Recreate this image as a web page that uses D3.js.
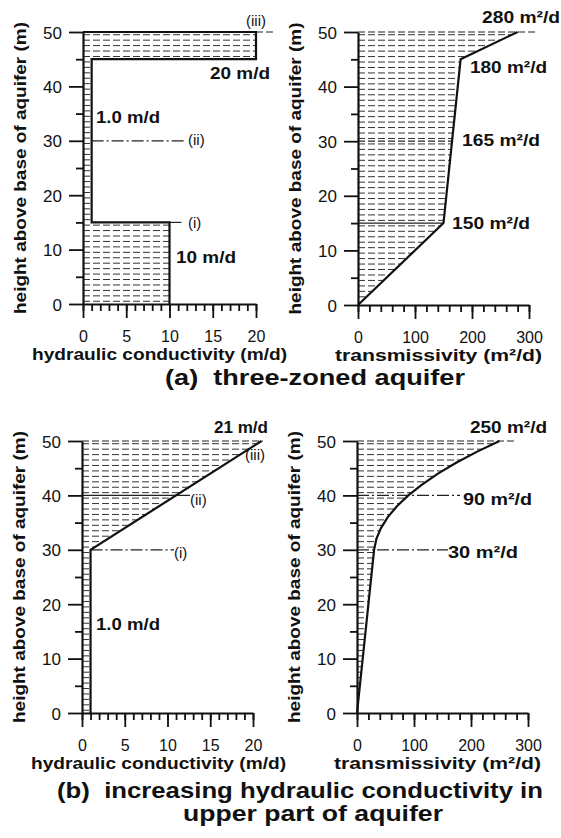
<!DOCTYPE html>
<html>
<head>
<meta charset="utf-8">
<script src="https://cdn.jsdelivr.net/npm/d3@7"></script>
<style>
  body { margin: 0; background: #fff; }
  svg text { font-family: "Liberation Sans", Arial, sans-serif; fill: #111; }
</style>
</head>
<body>
<div id="chart"></div>
<script>
// (a) three-zoned aquifer
const kHeightA = [0, 15, 15, 45, 45, 50];
const kValueA = [10, 10, 1, 1, 20, 20];
const tHeightA = [0, 15, 45, 50];
const tValueA = [0, 150, 180, 280];
// (b) increasing conductivity in upper part
const kHeightB = [0, 30, 50];
const kValueB = [1, 1, 21];
const tHeightB = [0, 10, 20, 30, 32, 34, 36, 38, 40, 42, 44, 46, 48, 50];
const tValueB = [0, 10, 20, 30, 34, 42, 54, 70, 90, 114, 142, 174, 210, 250];

const heightTicks = [0, 10, 20, 30, 40, 50];
const kTicks = [0, 5, 10, 15, 20];
const tTicks = [0, 100, 200, 300];

let width = 561,
  height = 838;

let svg = d3
  .select("#chart")
  .append("svg")
  .attr("width", width)
  .attr("height", height);

let defs = svg.append("defs");

// panel frames (pixel ranges)
let panels = [
  { id: "aK", x: [83, 256], y: [304, 32], max: 20, minor: 1, ticks: kTicks, title: "hydraulic conductivity (m/d)", tx: 32, tw: 255 },
  { id: "aT", x: [358, 529], y: [305, 32], max: 300, minor: 20, ticks: tTicks, title: "transmissivity (m²/d)", tx: 335, tw: 207 },
  { id: "bK", x: [82, 253], y: [713, 441], max: 20, minor: 1, ticks: kTicks, title: "hydraulic conductivity (m/d)", tx: 31, tw: 255 },
  { id: "bT", x: [357, 528], y: [713, 441], max: 300, minor: 20, ticks: tTicks, title: "transmissivity (m²/d)", tx: 334, tw: 207 },
];

panels.forEach((p) => {
  p.xs = d3.scaleLinear().domain([0, p.max]).range(p.x);
  p.ys = d3.scaleLinear().domain([0, 50]).range(p.y);
});

function drawAxes(p) {
  let g = svg.append("g");
  // minor y ticks
  g.append("g")
    .attr("transform", `translate(${p.x[0]},0)`)
    .call(d3.axisLeft(p.ys).tickValues([5, 15, 25, 35, 45]).tickSize(7).tickSizeOuter(0).tickFormat(""))
    .call((a) => a.select(".domain").remove());
  // major y ticks
  g.append("g")
    .attr("transform", `translate(${p.x[0]},0)`)
    .call(d3.axisLeft(p.ys).tickValues(heightTicks).tickSize(14).tickSizeOuter(0).tickPadding(7))
    .call((a) => a.selectAll("text").style("font-size", "17px").attr("dy", "0.36em"));
  // minor x ticks
  g.append("g")
    .attr("transform", `translate(0,${p.y[0]})`)
    .call(d3.axisBottom(p.xs).tickValues(d3.range(0, p.max + 0.01, p.minor)).tickSize(7).tickSizeOuter(0).tickFormat(""))
    .call((a) => a.select(".domain").remove());
  // major x ticks
  g.append("g")
    .attr("transform", `translate(0,${p.y[0]})`)
    .call(d3.axisBottom(p.xs).tickValues(p.ticks).tickSize(14).tickSizeOuter(0).tickPadding(13))
    .call((a) => a.selectAll("text").style("font-size", "16px"));
  g.selectAll("line, path").attr("stroke", "#111").attr("stroke-width", 1.8);
  g.selectAll(".domain").attr("stroke-width", 2.2);

  // axis titles
  svg.append("text")
    .attr("x", p.tx)
    .attr("y", p.y[0] + 56)
    .attr("textLength", p.tw)
    .attr("lengthAdjust", "spacingAndGlyphs")
    .style("font-size", "16.5px")
    .style("font-weight", "bold")
    .text(p.title);
  svg.append("text")
    .attr("transform", `translate(${p.x[0] - 57},${(p.y[0] + p.y[1]) / 2 + 146}) rotate(-90)`)
    .attr("textLength", 292)
    .attr("lengthAdjust", "spacingAndGlyphs")
    .style("font-size", "17px")
    .style("font-weight", "bold")
    .text("height above base of aquifer (m)");
}

// hatched region: clip dashed lines to polygon
function hatch(p, pts) {
  let poly = pts.map((d) => [p.xs(d[0]), p.ys(d[1])]);
  defs.append("clipPath")
    .attr("id", "clip-" + p.id)
    .append("polygon")
    .attr("points", poly.join(" "));
  svg.append("g")
    .attr("clip-path", `url(#clip-${p.id})`)
    .selectAll("line")
    .data(d3.range(0.5, 50, 1))
    .join("line")
    .attr("x1", p.x[0])
    .attr("x2", p.x[1] + 20)
    .attr("y1", (d) => p.ys(d))
    .attr("y2", (d) => p.ys(d))
    .attr("stroke", "#333")
    .attr("stroke-width", 1)
    .attr("stroke-dasharray", "7,3");
}

function refLine(p, h, x0, x1, dash) {
  svg.append("line")
    .attr("x1", p.xs(x0))
    .attr("x2", x1)
    .attr("y1", p.ys(h))
    .attr("y2", p.ys(h))
    .attr("stroke", "#222")
    .attr("stroke-width", 1.2)
    .attr("stroke-dasharray", dash);
}

// bold value labels are stretched to the width seen in the figure
function label(x, y, txt, w) {
  let t = svg.append("text")
    .attr("x", x)
    .attr("y", y)
    .style("font-size", w ? "16px" : "15px")
    .style("font-weight", w ? "bold" : "normal")
    .text(txt);
  if (w) t.attr("textLength", w).attr("lengthAdjust", "spacingAndGlyphs");
}

let outline = (p) =>
  d3.line().x((d) => p.xs(d[0])).y((d) => p.ys(d[1]));

function drawOutline(p, pts) {
  svg.append("path")
    .attr("d", outline(p)(pts))
    .attr("fill", "none")
    .attr("stroke", "#111")
    .attr("stroke-width", 2.2)
    .attr("stroke-linejoin", "miter");
}

// ---------- panel (a) K ----------
let p = panels[0];
let ptsAK = kHeightA.map((h, i) => [kValueA[i], h]);
hatch(p, [[0, 0]].concat(ptsAK, [[0, 50]]));
refLine(p, 50, 20, 275, "7,3");
refLine(p, 30, 1, 185, "12,3,2,3");
refLine(p, 15, 10, 184, "12,3,2,3");
drawOutline(p, ptsAK.concat([[0, 50]]));
drawAxes(p);
label(210, 79, "20 m/d", 60);
label(96, 123, "1.0 m/d", 64);
label(176, 263, "10 m/d", 60);
label(246, 26, "(iii)");
label(188, 145, "(ii)");
label(188, 228, "(i)");

// ---------- panel (a) T ----------
p = panels[1];
let ptsAT = tHeightA.map((h, i) => [tValueA[i], h]);
hatch(p, ptsAT.concat([[0, 50]]));
refLine(p, 50, 0, 536, "7,3");
refLine(p, 30, 0, p.xs(165), "7,3");
refLine(p, 15, 0, p.xs(150), "none");
drawOutline(p, ptsAT);
drawAxes(p);
label(482, 23, "280 m²/d", 78);
label(470, 73, "180 m²/d", 77);
label(462, 146, "165 m²/d", 78);
label(452, 229, "150 m²/d", 78);

// ---------- panel (b) K ----------
p = panels[2];
let ptsBK = kHeightB.map((h, i) => [kValueB[i], h]);
hatch(p, [[0, 0]].concat(ptsBK, [[0, 50]]));
refLine(p, 50, 0, 263, "7,3");
refLine(p, 40, 0, 190, "none");
refLine(p, 30, 1, 174, "12,3,2,3");
drawOutline(p, ptsBK);
drawAxes(p);
label(214, 433, "21 m/d", 54);
label(96, 630, "1.0 m/d", 64);
label(245, 460, "(iii)");
label(190, 505, "(ii)");
label(174, 558, "(i)");

// ---------- panel (b) T ----------
p = panels[3];
let ptsBT = tHeightB.map((h, i) => [tValueB[i], h]);
hatch(p, ptsBT.concat([[0, 50]]));
refLine(p, 50, 0, 515, "7,3");
refLine(p, 40, 0, 460, "12,3,2,3");
refLine(p, 30, 0, 448, "12,3,2,3");
drawOutline(p, ptsBT);
drawAxes(p);
label(470, 433, "250 m²/d", 77);
label(463, 505, "90 m²/d", 69);
label(448, 558, "30 m²/d", 70);

// ---------- panel titles ----------
function title(x, y, txt, w) {
  svg.append("text")
    .attr("x", x)
    .attr("y", y)
    .attr("textLength", w)
    .attr("lengthAdjust", "spacingAndGlyphs")
    .style("font-size", "22px")
    .style("font-weight", "bold")
    .style("white-space", "pre")
    .text(txt);
}
title(165, 385, "(a)  three-zoned aquifer", 300);
title(57, 798, "(b)  increasing hydraulic conductivity in", 486);
title(183, 821, "upper part of aquifer", 260);
</script>
</body>
</html>
